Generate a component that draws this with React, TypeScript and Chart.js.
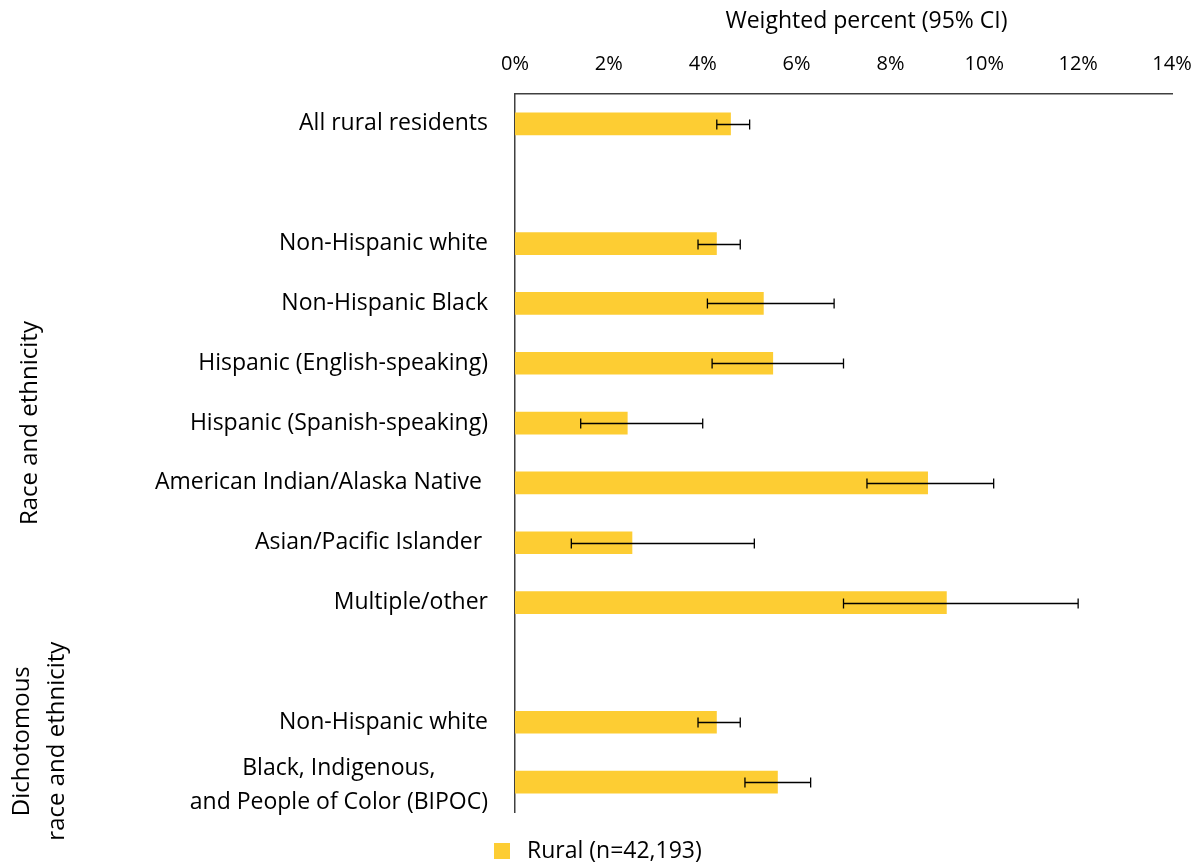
import React, { useEffect, useRef } from "react";
import { Chart, registerables } from "chart.js";

Chart.register(...registerables);

// Category rows; empty strings are spacer rows between the groups
const categories: (string | string[])[] = [
  "All rural residents",
  "",
  "Non-Hispanic white",
  "Non-Hispanic Black",
  "Hispanic (English-speaking)",
  "Hispanic (Spanish-speaking)",
  "American Indian/Alaska Native ",
  "Asian/Pacific Islander ",
  "Multiple/other",
  "",
  "Non-Hispanic white",
  ["Black, Indigenous,", "and People of Color (BIPOC)"],
];

// Weighted percent and 95% confidence interval bounds
const values: (number | null)[] = [4.6, null, 4.3, 5.3, 5.5, 2.4, 8.8, 2.5, 9.2, null, 4.3, 5.6];
const ciLow: (number | null)[] = [4.3, null, 3.9, 4.1, 4.2, 1.4, 7.5, 1.2, 7.0, null, 3.9, 4.9];
const ciHigh: (number | null)[] = [5.0, null, 4.8, 6.8, 7.0, 4.0, 10.2, 5.1, 12.0, null, 4.8, 6.3];

const xTicks: number[] = [0, 2, 4, 6, 8, 10, 12, 14];

const seriesLabel = "Rural (n=42,193)";
const axisTitle = "Weighted percent (95% CI)";
const groupLabels: { lines: string[]; from: number; to: number }[] = [
  { lines: ["Race and ethnicity"], from: 2, to: 8 },
  { lines: ["Dichotomous", "race and ethnicity"], from: 10, to: 11 },
];

const BAR_COLOR = "#FDCD33";
const FONT = "'Open Sans', 'Noto Sans', sans-serif";

const annotationsPlugin = {
  id: "annotations",
  afterDatasetsDraw(chart: any) {
    const { ctx, chartArea, scales } = chart;
    const x = scales.x;
    const y = scales.y;
    ctx.save();

    // error bars
    ctx.strokeStyle = "#000";
    ctx.lineWidth = 1.3;
    ciLow.forEach((lo, i) => {
      const hi = ciHigh[i];
      if (lo == null || hi == null) return;
      const yc = Math.round(y.getPixelForValue(i)) + 0.5;
      const x1 = x.getPixelForValue(lo);
      const x2 = x.getPixelForValue(hi);
      ctx.beginPath();
      ctx.moveTo(x1, yc);
      ctx.lineTo(x2, yc);
      ctx.moveTo(x1, yc - 5);
      ctx.lineTo(x1, yc + 5);
      ctx.moveTo(x2, yc - 5);
      ctx.lineTo(x2, yc + 5);
      ctx.stroke();
    });

    // category labels
    ctx.fillStyle = "#000";
    ctx.font = `23px ${FONT}`;
    ctx.textBaseline = "middle";
    const right = chartArea.left - 27;
    categories.forEach((lab, i) => {
      const yc = y.getPixelForValue(i);
      if (Array.isArray(lab)) {
        const widths = lab.map((l) => ctx.measureText(l).width);
        const maxW = Math.max(...widths);
        const cx = right - maxW / 2;
        ctx.textAlign = "center";
        const lh = 34;
        lab.forEach((l, k) => {
          ctx.fillText(l, cx, yc + 3 + (k - (lab.length - 1) / 2) * lh);
        });
      } else if (lab) {
        ctx.textAlign = "right";
        ctx.fillText(lab, right, yc);
      }
    });

    // rotated group labels
    ctx.textAlign = "center";
    ctx.font = `24px ${FONT}`;
    groupLabels.forEach((g, gi) => {
      const yMid = (y.getPixelForValue(g.from) + y.getPixelForValue(g.to)) / 2 - (gi === 1 ? 11 : 0);
      const baseX = g.lines.length === 1 ? 30 : 22;
      g.lines.forEach((l, k) => {
        ctx.save();
        ctx.translate(baseX + k * 35, yMid);
        ctx.rotate(-Math.PI / 2);
        ctx.fillText(l, 0, 0);
        ctx.restore();
      });
    });

    // axis title
    ctx.font = `23px ${FONT}`;
    ctx.textAlign = "center";
    ctx.fillText(axisTitle, (chartArea.left + chartArea.right) / 2 + 23, 21);

    // legend
    const lx = 494;
    const ly = chartArea.bottom + 39;
    ctx.fillStyle = BAR_COLOR;
    ctx.fillRect(lx, ly - 8, 16, 16);
    ctx.fillStyle = "#000";
    ctx.textAlign = "left";
    ctx.font = `23px ${FONT}`;
    ctx.fillText(seriesLabel, lx + 33, ly);

    ctx.restore();
  },
};

export default function App() {
  const canvasRef = useRef<HTMLCanvasElement | null>(null);

  useEffect(() => {
    document.body.style.margin = "0";
    document.body.style.overflow = "hidden";
    const canvas = canvasRef.current;
    if (!canvas) return;
    const chart = new Chart(canvas, {
      type: "bar",
      data: {
        labels: categories as any,
        datasets: [
          {
            label: seriesLabel,
            data: values,
            backgroundColor: BAR_COLOR,
            borderWidth: 0,
            barPercentage: 0.38,
            categoryPercentage: 1,
          },
        ],
      },
      options: {
        indexAxis: "y",
        animation: false,
        responsive: false,
        maintainAspectRatio: false,
        layout: { padding: { left: 515, right: 25, top: 34, bottom: 51 } },
        plugins: {
          legend: { display: false },
          tooltip: { enabled: false },
        },
        scales: {
          x: {
            position: "top",
            min: 0,
            max: 14,
            afterBuildTicks: (scale: any) => {
              scale.ticks = xTicks.map((v) => ({ value: v }));
            },
            afterFit: (scale: any) => {
              scale.paddingLeft = 0;
              scale.paddingRight = 0;
            },
            ticks: {
              callback: (v: any) => `${v}%`,
              color: "#000",
              font: { size: 20, family: FONT },
              padding: 18,
            },
            grid: { display: false, drawTicks: false },
            border: { display: true, color: "#404040", width: 1.5 },
          },
          y: {
            ticks: { display: false },
            grid: { display: false, drawTicks: false },
            border: { display: true, color: "#404040", width: 1.5 },
          },
        },
      },
      plugins: [annotationsPlugin],
    });
    return () => chart.destroy();
  }, []);

  return (
    <div style={{ width: 1197, height: 863 }}>
      <canvas ref={canvasRef} width={1197} height={863} style={{ display: "block" }} />
    </div>
  );
}
